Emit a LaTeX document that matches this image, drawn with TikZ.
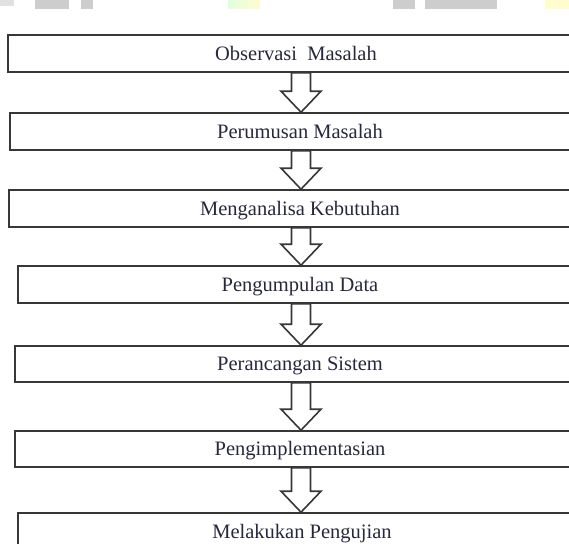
\documentclass[tikz,border=0pt]{standalone}
\usepackage{fontspec}
\setmainfont{Liberation Serif}
\usetikzlibrary{calc}
\definecolor{boxline}{RGB}{55,55,55}
\definecolor{txtcol}{RGB}{40,40,60}
\definecolor{wmgray}{RGB}{205,205,205}
\definecolor{wmyellow}{RGB}{255,252,205}
\definecolor{wmgreen}{RGB}{225,255,225}
\tikzset{
  stepbox/.style={draw=boxline, line width=1.6pt, rectangle, inner sep=0pt,
    font=\fontsize{20.5}{24}\selectfont, text=txtcol,
    text height=17pt, text depth=4pt},
  blockarr/.style={draw=boxline, line width=1.6pt, line join=miter},
  wm/.style={draw=none}
}
\newcommand\stepnode[6]{% name, left, top, bottom, text centre x, text
  \node[stepbox, minimum width={2*#5pt-2*#2pt}, minimum height={#4pt-#3pt}]
    (#1) at (#5pt,{-(#3+#4)/2*1pt}) {#6};}
\newcommand\blockarrow[2]{%
  \draw[blockarr] let \p1=(#1.south), \p2=(#2.north) in
    (301pt,\y1) -- (291.5pt,\y1) -- (291.5pt,\y2+21pt) -- (281pt,\y2+21pt) -- (301pt,\y2)
    -- (321pt,\y2+21pt) -- (310.5pt,\y2+21pt) -- (310.5pt,\y1) -- (301pt,\y1);}
\begin{document}
\begin{tikzpicture}[x=1pt,y=1pt]
  \clip (0,0) rectangle (569,-543);
  \fill[white] (0,0) rectangle (569,-543);
  % faint watermark remnants at the top edge
  \fill[wm, wmgray] (35,0) rectangle (69,-9);
  \fill[wm, wmgray] (81,0) rectangle (93,-9);
  \fill[wm, wmgray!60] (0,0) rectangle (14,-6);
  \fill[wm, left color=wmgreen, right color=wmyellow] (228,0) rectangle (260,-9);
  \fill[wm, wmgray] (393,0) rectangle (415,-9);
  \fill[wm, wmgray] (425,0) rectangle (497,-9);
  \fill[wm, wmyellow] (545,0) rectangle (569,-9);
  % steps
  \stepnode{b1}{8}{35}{72}{296}{Observasi\ \ Masalah}
  \stepnode{b2}{10}{113}{150}{300}{Perumusan Masalah}
  \stepnode{b3}{9}{190}{227}{300}{Menganalisa Kebutuhan}
  \stepnode{b4}{18}{266}{303}{300}{Pengumpulan Data}
  \stepnode{b5}{15}{346}{382}{300}{Perancangan Sistem}
  \stepnode{b6}{15}{431}{467}{300}{Pengimplementasian}
  \stepnode{b7}{18}{513}{550}{302}{Melakukan Pengujian}
  % arrows
  \blockarrow{b1}{b2}
  \blockarrow{b2}{b3}
  \blockarrow{b3}{b4}
  \blockarrow{b4}{b5}
  \blockarrow{b5}{b6}
  \blockarrow{b6}{b7}
\end{tikzpicture}
\end{document}
